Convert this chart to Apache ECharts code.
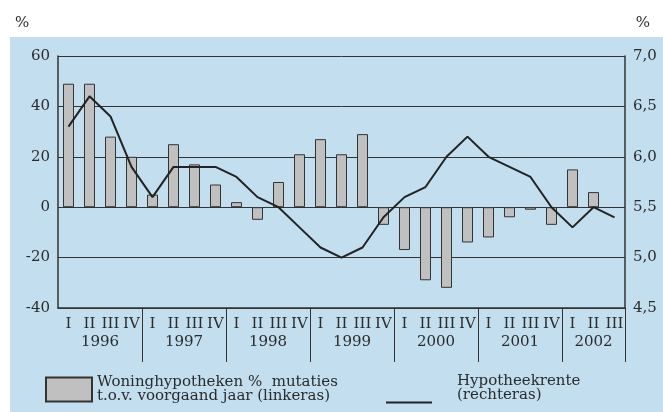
<!DOCTYPE html>
<html>
<head>
<meta charset="utf-8">
<script src="https://cdn.jsdelivr.net/npm/echarts@6/dist/echarts.min.js"></script>
<style>
html,body{margin:0;padding:0;background:#fff;}
#chart{width:663px;height:412px;}
</style>
</head>
<body>
<div id="chart"></div>
<script>
const years = ['1996','1997','1998','1999','2000','2001','2002'];
const quarterNames = ['I','II','III','IV'];
const mortgageGrowth = [49,49,28,20, 5,25,17,9, 2,-5,10,21, 27,21,29,-7, -17,-29,-32,-14, -12,-4,-1,-7, 15,6,null];
const mortgageRate = [6.3,6.6,6.4,5.9, 5.6,5.9,5.9,5.9, 5.8,5.6,5.5,5.3, 5.1,5.0,5.1,5.4, 5.6,5.7,6.0,6.2, 6.0,5.9,5.8,5.5, 5.3,5.5,5.4];
const leftTicks = {min:-40, max:60, step:20};
const rightTicks = {min:4.5, max:7.0, step:0.5};
const barName = 'Woninghypotheken %  mutaties\nt.o.v. voorgaand jaar (linkeras)';
const lineName = 'Hypotheekrente\n(rechteras)';

const categories = mortgageRate.map((_, i) => years[Math.floor(i / 4)] + ' ' + quarterNames[i % 4]);
// centre of each year's quarters on the category scale
const yearCenters = {};
years.forEach(y => {
  const idx = categories.map((c, i) => c.startsWith(y) ? i : -1).filter(i => i >= 0);
  if (idx.length) yearCenters[((idx[0] + idx[idx.length - 1] + 1) / 2).toFixed(1)] = y;
});

const FONT = 'DejaVu Serif';
const TXT = '#2b2b2b';
const chart = echarts.init(document.getElementById('chart'));
chart.setOption({
  animation: false,
  backgroundColor: '#ffffff',
  graphic: [{
    type: 'rect', left: 10, top: 37, z: -100, silent: true,
    shape: {width: 653, height: 375},
    style: {fill: '#c2deef'}
  }],
  title: [
    {text: '%', left: 10, top: 11, textStyle: {fontFamily: FONT, fontSize: 15, fontWeight: 'normal', color: TXT}},
    {text: '%', right: 8, top: 11, textStyle: {fontFamily: FONT, fontSize: 15, fontWeight: 'normal', color: TXT}}
  ],
  legend: [
    {
      data: [barName], left: 45, top: 374, padding: 0, selectedMode: false,
      itemWidth: 46, itemHeight: 24, icon: 'rect',
      textStyle: {fontFamily: FONT, fontSize: 15, lineHeight: 14, color: TXT, padding: [0, 0, 3, 0]}
    },
    {
      data: [lineName], left: 386, top: 374, padding: 0, selectedMode: false,
      itemWidth: 46, itemHeight: 2, icon: 'rect',
      formatter: n => n + '\n \n ',
      textStyle: {fontFamily: FONT, fontSize: 15, lineHeight: 14, color: TXT, padding: [0, 0, 0, 20]}
    }
  ],
  grid: {left: 58, right: 38, top: 56, bottom: 104, containLabel: false},
  xAxis: [
    {
      type: 'category', data: categories, boundaryGap: true,
      axisLine: {show: true, onZero: false, lineStyle: {color: '#333', width: 1.5}},
      axisTick: {show: true, length: 54, lineStyle: {color: '#333', width: 1},
        interval: (index) => index > 0 && index % 4 === 0},
      axisLabel: {interval: 0, margin: 9, fontFamily: FONT, fontSize: 15, color: TXT,
        formatter: v => v.split(' ')[1]},
      splitLine: {show: false}
    },
    {
      type: 'value', position: 'bottom', offset: 18, min: 0, max: categories.length, interval: 0.5,
      axisLine: {show: false}, axisTick: {show: false}, splitLine: {show: false},
      axisLabel: {margin: 9, fontFamily: FONT, fontSize: 15, color: TXT, showMinLabel: true, showMaxLabel: true,
        formatter: v => yearCenters[Number(v).toFixed(1)] || ''}
    }
  ],
  yAxis: [
    {
      type: 'value', min: leftTicks.min, max: leftTicks.max, interval: leftTicks.step,
      axisLine: {show: true, lineStyle: {color: '#333', width: 1.5}},
      axisTick: {show: false},
      axisLabel: {margin: 8, fontFamily: FONT, fontSize: 15, color: TXT},
      splitLine: {show: true, lineStyle: {color: '#333', width: 1}}
    },
    {
      type: 'value', min: rightTicks.min, max: rightTicks.max, interval: rightTicks.step,
      axisLine: {show: true, lineStyle: {color: '#333', width: 1.5}},
      axisTick: {show: false},
      axisLabel: {margin: 8, fontFamily: FONT, fontSize: 15, color: TXT,
        formatter: v => v.toFixed(1).replace('.', ',')},
      splitLine: {show: false}
    }
  ],
  series: [
    {
      name: barName, type: 'bar', xAxisIndex: 0, yAxisIndex: 0, data: mortgageGrowth,
      barWidth: 11,
      itemStyle: {color: '#c0c0c0', borderColor: '#333', borderWidth: 1}
    },
    {
      name: lineName, type: 'line', xAxisIndex: 0, yAxisIndex: 1, data: mortgageRate,
      symbol: 'none', lineStyle: {color: '#222', width: 2}, itemStyle: {color: '#222'}
    }
  ]
});
</script>
</body>
</html>
